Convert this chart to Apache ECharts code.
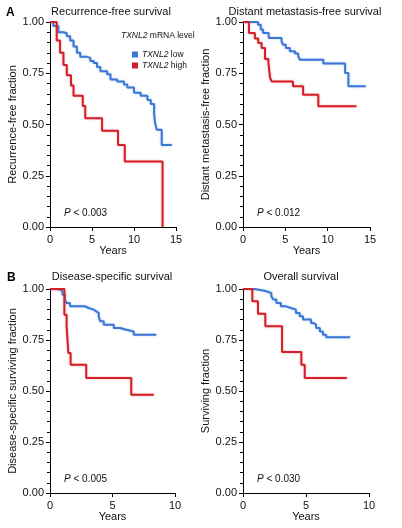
<!DOCTYPE html>
<html><head><meta charset="utf-8">
<script src="https://cdn.jsdelivr.net/npm/echarts@6/dist/echarts.min.js"></script>
<style>html,body{margin:0;padding:0;background:#fff}#c{width:402px;height:528px}</style>
</head><body><div id="c"></div>
<script>
// Panel A left: Recurrence-free survival
const rfsLowYears = [0, 0.4, 1.0, 1.6, 2.0, 2.4, 2.8, 3.2, 3.6, 4.4, 4.8, 5.2, 5.6, 6.0, 6.8, 7.2, 8.0, 8.8, 9.2, 10.0, 10.8, 11.6, 12.0, 12.4, 12.5, 12.7, 13.3, 14.5];
const rfsLowSurv  = [1, 0.98, 0.95, 0.945, 0.93, 0.91, 0.88, 0.85, 0.83, 0.825, 0.81, 0.80, 0.78, 0.76, 0.745, 0.72, 0.71, 0.695, 0.68, 0.655, 0.64, 0.62, 0.60, 0.55, 0.51, 0.475, 0.40, 0.40];
const rfsHighYears = [0, 0.8, 1.2, 1.6, 2.0, 2.5, 2.8, 3.9, 4.2, 6.2, 8.1, 8.9, 13.4];
const rfsHighSurv  = [1, 0.91, 0.85, 0.79, 0.74, 0.69, 0.64, 0.59, 0.53, 0.47, 0.40, 0.32, 0];
// Panel A right: Distant metastasis-free survival
const dmfsLowYears = [0, 1.78, 2.1, 2.37, 3.04, 4.55, 4.74, 5.06, 5.53, 6.13, 6.52, 6.72, 9.49, 12.06, 12.45, 14.5];
const dmfsLowSurv  = [1, 0.987, 0.963, 0.946, 0.922, 0.906, 0.889, 0.873, 0.857, 0.846, 0.833, 0.816, 0.797, 0.751, 0.686, 0.686];
const dmfsHighYears = [0, 0.7, 1.4, 1.8, 2.2, 2.6, 3.0, 3.2, 3.4, 5.9, 7.1, 8.9, 13.4];
const dmfsHighSurv  = [1, 0.946, 0.92, 0.898, 0.873, 0.82, 0.80, 0.727, 0.71, 0.686, 0.645, 0.589, 0.589];
// Panel B left: Disease-specific survival
const dssLowYears = [0, 0.4, 0.8, 1.0, 1.2, 1.33, 1.6, 2.8, 3.1, 3.5, 3.7, 3.9, 4.0, 4.3, 5.1, 5.6, 6.1, 6.7, 8.5];
const dssLowSurv  = [1, 0.997, 0.989, 0.972, 0.948, 0.931, 0.915, 0.907, 0.899, 0.89, 0.882, 0.866, 0.842, 0.825, 0.809, 0.80, 0.792, 0.776, 0.776];
const dssHighYears = [0, 1.15, 1.33, 1.47, 1.65, 2.9, 6.5, 8.3];
const dssHighSurv  = [1, 0.874, 0.817, 0.686, 0.629, 0.564, 0.482, 0.482];
// Panel B right: Overall survival
const osLowYears = [0, 0.9, 1.6, 1.85, 2.25, 2.4, 2.65, 3.0, 3.4, 3.8, 4.2, 4.5, 4.76, 5.4, 5.6, 5.8, 6.1, 6.35, 6.6, 8.5];
const osLowSurv  = [1, 0.993, 0.989, 0.98, 0.964, 0.948, 0.931, 0.915, 0.907, 0.899, 0.882, 0.866, 0.85, 0.833, 0.825, 0.809, 0.792, 0.776, 0.763, 0.763];
const osHighYears = [0, 0.74, 1.19, 1.77, 3.1, 4.63, 4.9, 8.25];
const osHighSurv  = [1, 0.94, 0.879, 0.817, 0.691, 0.629, 0.564, 0.564];

const panelTitles = ['Recurrence-free survival', 'Distant metastasis-free survival', 'Disease-specific survival', 'Overall survival'];
const yAxisNames = ['Recurrence-free fraction', 'Distant metastasis-free fraction', 'Disease-specific surviving fraction', 'Surviving fraction'];
const xMaxYears = [15, 15, 10, 10];
const pValues = ['< 0.003', '< 0.012', '< 0.005', '< 0.030'];
const groupNames = ['TXNL2 low', 'TXNL2 high'];

const BLUE = '#3b78d6', RED = '#d3202a';
const FONT = 'Liberation Sans';
const zip = (a, b) => a.map((v, i) => [v, b[i]]);

const grids = [
  {left: 50, top: 22, width: 126, height: 205},
  {left: 243, top: 22, width: 127, height: 205},
  {left: 50, top: 289, width: 125, height: 204},
  {left: 243, top: 289, width: 126, height: 204}
];
const titleCenters = [[111, 11.7], [305, 11.7], [112, 277.3], [301, 277.3]];

const xAxes = grids.map((g, i) => ({
  type: 'value', gridIndex: i, min: 0, max: xMaxYears[i], interval: 5,
  name: 'Years', nameLocation: 'middle', nameGap: 17,
  nameTextStyle: {fontFamily: FONT, fontSize: 11, color: '#111'},
  axisLine: {lineStyle: {color: '#000', width: 1}},
  axisTick: {show: true, length: 4, lineStyle: {color: '#000'}},
  axisLabel: {fontFamily: FONT, fontSize: 11, color: '#111', margin: 7},
  splitLine: {show: false}
}));
const yAxes = grids.map((g, i) => ({
  type: 'value', gridIndex: i, min: 0, max: 1, interval: 0.25,
  name: yAxisNames[i], nameLocation: 'middle', nameGap: 30,
  nameTextStyle: {fontFamily: FONT, fontSize: 11, color: '#111'},
  axisLine: {show: true, lineStyle: {color: '#000', width: 1}},
  axisTick: {show: true, length: 4, lineStyle: {color: '#000'}},
  minorTick: {show: true, splitNumber: 5, length: 3, lineStyle: {color: '#000'}},
  axisLabel: {fontFamily: FONT, fontSize: 11, color: '#111', margin: 6, formatter: v => v.toFixed(2)},
  splitLine: {show: false}
}));

const panelData = [
  [zip(rfsLowYears, rfsLowSurv), zip(rfsHighYears, rfsHighSurv)],
  [zip(dmfsLowYears, dmfsLowSurv), zip(dmfsHighYears, dmfsHighSurv)],
  [zip(dssLowYears, dssLowSurv), zip(dssHighYears, dssHighSurv)],
  [zip(osLowYears, osLowSurv), zip(osHighYears, osHighSurv)]
];
const series = [];
panelData.forEach((pair, i) => {
  pair.forEach((d, k) => {
    const col = k === 0 ? BLUE : RED;
    series.push({
      type: 'line', name: groupNames[k], xAxisIndex: i, yAxisIndex: i, data: d,
      step: 'end', showSymbol: false, symbol: 'none', z: k === 0 ? 3 : 4,
      itemStyle: {color: col},
      lineStyle: {color: col, width: 2, shadowBlur: 2, shadowColor: k === 0 ? 'rgba(80,140,230,0.5)' : 'rgba(230,80,80,0.5)'}
    });
  });
});

const graphic = [];
grids.forEach((g, i) => {
  graphic.push({type: 'text', x: titleCenters[i][0], y: titleCenters[i][1], style: {
    text: panelTitles[i], fontFamily: FONT, fontSize: 11, fill: '#111', textAlign: 'center', textVerticalAlign: 'middle'}, z: 10});
  graphic.push({type: 'text', x: g.left + 14, y: g.top + g.height - 14, style: {
    text: '{i|P} ' + pValues[i], fontFamily: FONT, fontSize: 10, fill: '#111', textVerticalAlign: 'middle',
    rich: {i: {fontStyle: 'italic', fontFamily: FONT, fontSize: 10, fill: '#111'}}}, z: 10});
});
graphic.push({type: 'text', x: 6, y: 7, style: {text: 'A', fontFamily: FONT, fontSize: 12, fontWeight: 'bold', fill: '#000'}});
graphic.push({type: 'text', x: 7, y: 272, style: {text: 'B', fontFamily: FONT, fontSize: 12, fontWeight: 'bold', fill: '#000'}});
graphic.push({type: 'text', x: 121, y: 31, style: {text: '{i|TXNL2} mRNA level', fontFamily: FONT, fontSize: 8.5, fill: '#111',
  rich: {i: {fontStyle: 'italic', fontFamily: FONT, fontSize: 8.5, fill: '#111'}}}, z: 10});

const chart = echarts.init(document.getElementById('c'), null, {renderer: 'canvas'});
chart.setOption({
  animation: false,
  grid: grids,
  xAxis: xAxes,
  yAxis: yAxes,
  series: series,
  legend: {
    left: 127, top: 45, orient: 'vertical', itemWidth: 6, itemHeight: 6, itemGap: 2,
    data: groupNames.map((n, k) => ({name: n, icon: 'rect', itemStyle: {color: k === 0 ? BLUE : RED}})),
    formatter: n => '{i|TXNL2} ' + n.split(' ')[1],
    textStyle: {fontFamily: FONT, fontSize: 8.5, color: '#111', padding: [0, 0, 0, -1],
      rich: {i: {fontStyle: 'italic', fontFamily: FONT, fontSize: 8.5, color: '#111'}}}
  },
  graphic: graphic
});
</script>
</body></html>
